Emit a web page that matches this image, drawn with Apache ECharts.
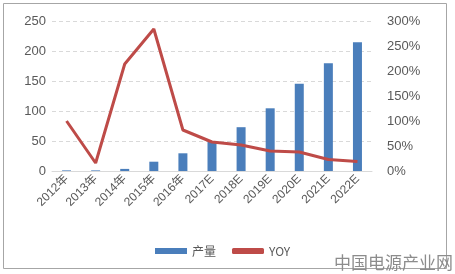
<!DOCTYPE html>
<html><head><meta charset="utf-8">
<script src="https://cdn.jsdelivr.net/npm/echarts@6/dist/echarts.min.js"></script>
<style>html,body{margin:0;padding:0;background:#fff}#c{width:455px;height:274px}</style>
</head><body><div id="c"></div>
<script>
const categories = ['2012年','2013年','2014年','2015年','2016年','2017E','2018E','2019E','2020E','2021E','2022E'];
const output = [1, 1, 3.5, 15.5, 29.5, 49, 73, 104.5, 145.5, 179.5, 214.5];
const yoy = [100, 16, 214, 284, 82, 58, 52, 40, 38, 23, 19];
const leftTicks = {min: 0, max: 250, interval: 50};
const rightTicks = {min: 0, max: 300, interval: 50};

const chart = echarts.init(document.getElementById('c'));
const fontFam = '"Liberation Sans","Noto Sans CJK SC",sans-serif';
chart.setOption({
  animation: false,
  grid: {left: 52, right: 83, top: 21, bottom: 103},
  legend: {
    bottom: 12, left: 150,
    itemWidth: 32, itemHeight: 6, itemGap: 16,
    textStyle: {color: '#595959', fontSize: 12, fontFamily: '"Noto Sans CJK SC",sans-serif'},
    data: [{name: '产量', icon: 'rect'}, {name: 'YOY', icon: 'roundRect'}]
  },
  xAxis: {
    type: 'category', data: categories,
    axisLine: {lineStyle: {color: '#d9d9d9'}},
    axisTick: {show: false},
    axisLabel: {rotate: 45, color: '#595959', fontSize: 12, fontFamily: fontFam, interval: 0, margin: 6}
  },
  yAxis: [
    {type: 'value', min: leftTicks.min, max: leftTicks.max, interval: leftTicks.interval,
     axisLabel: {color: '#595959', fontSize: 13, fontFamily: fontFam, margin: 6},
     axisLine: {show: false}, axisTick: {show: false},
     splitLine: {lineStyle: {color: '#d9d9d9', type: [4, 3]}}},
    {type: 'value', min: rightTicks.min, max: rightTicks.max, interval: rightTicks.interval,
     axisLabel: {color: '#595959', fontSize: 13, fontFamily: fontFam, formatter: '{value}%', margin: 15},
     axisLine: {show: false}, axisTick: {show: false}, splitLine: {show: false}}
  ],
  series: [
    {name: '产量', type: 'bar', data: output, barWidth: 9, itemStyle: {color: '#4a7ebb'}},
    {name: 'YOY', type: 'line', yAxisIndex: 1, data: yoy, symbol: 'none',
     lineStyle: {color: '#be4b48', width: 3}, itemStyle: {color: '#be4b48'}}
  ],
  graphic: [
    {type: 'rect', shape: {x: 3.5, y: 3.5, width: 443, height: 265},
     style: {fill: 'none', stroke: '#a6a6a6', lineWidth: 1}, silent: true},
    {type: 'text', right: 2, bottom: 3,
     style: {text: '中国电源产业网', fill: '#8c8c8c', fontSize: 17, fontFamily: '"Noto Sans CJK SC",serif'}}
  ]
});
</script></body></html>
